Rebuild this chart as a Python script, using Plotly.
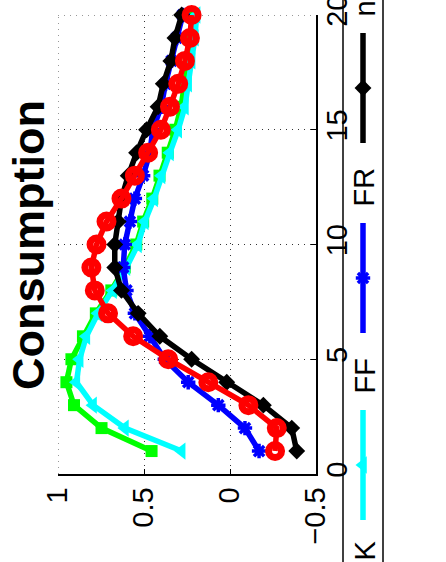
import plotly.graph_objects as go

# ---------------- data ----------------
horizon = list(range(1, 21))
series_labels = ["RK", "FF", "FR", "no FR", "FK"]
green_vals = [0.456, 0.747, 0.907, 0.951, 0.922, 0.855, 0.780, 0.690, 0.612, 0.545,
              0.505, 0.452, 0.410, 0.362, 0.318, 0.285, 0.262, 0.240, 0.222, 0.210]
cyan_vals = [0.281, 0.611, 0.796, 0.893, 0.874, 0.835, 0.767, 0.680, 0.602, 0.535,
             0.495, 0.441, 0.398, 0.349, 0.301, 0.262, 0.243, 0.223, 0.204, 0.194]
blue_vals = [-0.169, -0.087, 0.068, 0.243, 0.379, 0.466, 0.553, 0.602, 0.621, 0.612,
             0.582, 0.553, 0.505, 0.466, 0.449, 0.400, 0.375, 0.340, 0.310, 0.275]
black_vals = [-0.388, -0.359, -0.194, 0.019, 0.223, 0.408, 0.534, 0.631, 0.670, 0.670,
              0.650, 0.631, 0.592, 0.543, 0.485, 0.418, 0.388, 0.344, 0.320, 0.281]
red_vals = [-0.262, -0.272, -0.107, 0.126, 0.359, 0.563, 0.709, 0.786, 0.806, 0.776,
            0.718, 0.631, 0.553, 0.476, 0.402, 0.349, 0.301, 0.262, 0.233, 0.223]
value_ticks = [1, 0.5, 0, -0.5]
horizon_ticks = [0, 5, 10, 15, 20]
title_text = "Consumption"

all_vals = [green_vals, cyan_vals, blue_vals, black_vals, red_vals]

# ---------------- styles ----------------
W, H = 446, 562
FONT = "Liberation Sans, Arial, Helvetica, sans-serif"
colors = ["#00ff00", "#00ffff", "#0000ff", "#000000", "#ff0000"]
symbols = ["square", "triangle-left", "asterisk-open", "diamond", "circle-open"]
msizes = [12, 15, 12, 13, 13]
mline = [0, 0, 3.5, 0, 7]
LW = 5.5

# plot area in pixels
PL, PR, PT, PB = 58, 316, 15, 474


def px_x(px):
    return px / W


def px_y(py):
    return 1 - py / H


fig = go.Figure()

for vals, name, c, s, ms, ml in zip(all_vals, series_labels, colors, symbols, msizes, mline):
    fig.add_trace(go.Scatter(
        x=vals, y=horizon, mode="lines+markers", name=name,
        line=dict(color=c, width=LW),
        marker=dict(symbol=s, size=ms, color=c, line=dict(color=c, width=ml)),
        cliponaxis=False, showlegend=False,
    ))

# ---------------- hand-drawn (rotated) legend on a pixel overlay ----------------
LEG_X = 363
entry_bottoms = [708, 520, 333, 143, -45]
LINE_LEN = 110
TEXT_GAP = 14
for b, name, c, s, ms, ml in zip(entry_bottoms, series_labels, colors, symbols, msizes, mline):
    fig.add_trace(go.Scatter(
        x=[LEG_X, LEG_X], y=[b, b - LINE_LEN], mode="lines",
        line=dict(color=c, width=LW), xaxis="x2", yaxis="y2",
        showlegend=False, hoverinfo="skip"))
    fig.add_trace(go.Scatter(
        x=[LEG_X], y=[b - LINE_LEN / 2], mode="markers",
        marker=dict(symbol=s, size=ms, color=c, line=dict(color=c, width=ml)),
        xaxis="x2", yaxis="y2", showlegend=False, hoverinfo="skip"))
    fig.add_annotation(
        x=px_x(LEG_X + 1), y=px_y(b - LINE_LEN - TEXT_GAP), xref="paper", yref="paper",
        text=name, textangle=-90, showarrow=False,
        xanchor="center", yanchor="bottom",
        font=dict(family=FONT, size=29, color="black"))

shapes = []
for lx in (343, 383):
    shapes.append(dict(type="line", xref="paper", yref="paper", x0=px_x(lx), x1=px_x(lx),
                       y0=-0.05, y1=1.05, line=dict(color="black", width=1.5)))
# dotted grid at the far edges of the axes box
shapes.append(dict(type="line", xref="x", yref="y domain", x0=1, x1=1, y0=0, y1=1,
                   line=dict(color="#333333", width=1, dash="1px,5px"), layer="below"))
shapes.append(dict(type="line", xref="x domain", yref="y", x0=0, x1=1, y0=20, y1=20,
                   line=dict(color="#333333", width=1, dash="1px,5px"), layer="below"))

fig.add_annotation(
    x=px_x(28), y=px_y(245), xref="paper", yref="paper", text="<b>" + title_text + "</b>",
    textangle=-90, showarrow=False, xanchor="center", yanchor="middle",
    font=dict(family=FONT, size=45, color="black"))

grid = dict(showgrid=True, gridcolor="#333333", gridwidth=1, griddash="1px,5px")

fig.update_layout(
    width=W, height=H,
    margin=dict(l=0, r=0, t=0, b=0),
    paper_bgcolor="white", plot_bgcolor="rgba(0,0,0,0)",
    shapes=shapes,
    xaxis=dict(
        domain=[PL / W, PR / W], range=[1, -0.5], anchor="y",
        tickvals=value_ticks, tickangle=-90, ticks="inside", ticklen=5,
        tickcolor="black", tickwidth=1, showline=True, linecolor="black",
        linewidth=1.5, zeroline=False, automargin=False, ticklabelstandoff=0,
        ticklabeloverflow="allow",
        tickfont=dict(family=FONT, size=29, color="black"), **grid),
    yaxis=dict(
        domain=[1 - PB / H, 1 - PT / H], range=[0, 20], anchor="x", side="right",
        tickvals=horizon_ticks, tickangle=-90, ticks="inside", ticklen=5,
        tickcolor="black", tickwidth=1, showline=True, linecolor="black",
        linewidth=1.5, zeroline=False, automargin=False, ticklabelstandoff=-6,
        ticklabeloverflow="allow",
        tickfont=dict(family=FONT, size=29, color="black"), **grid),
    xaxis2=dict(domain=[0, 1], range=[0, W], visible=False, anchor="y2", fixedrange=True),
    yaxis2=dict(domain=[0, 1], range=[H, 0], visible=False, anchor="x2", fixedrange=True),
    showlegend=False,
)

fig.write_html("out.html")
